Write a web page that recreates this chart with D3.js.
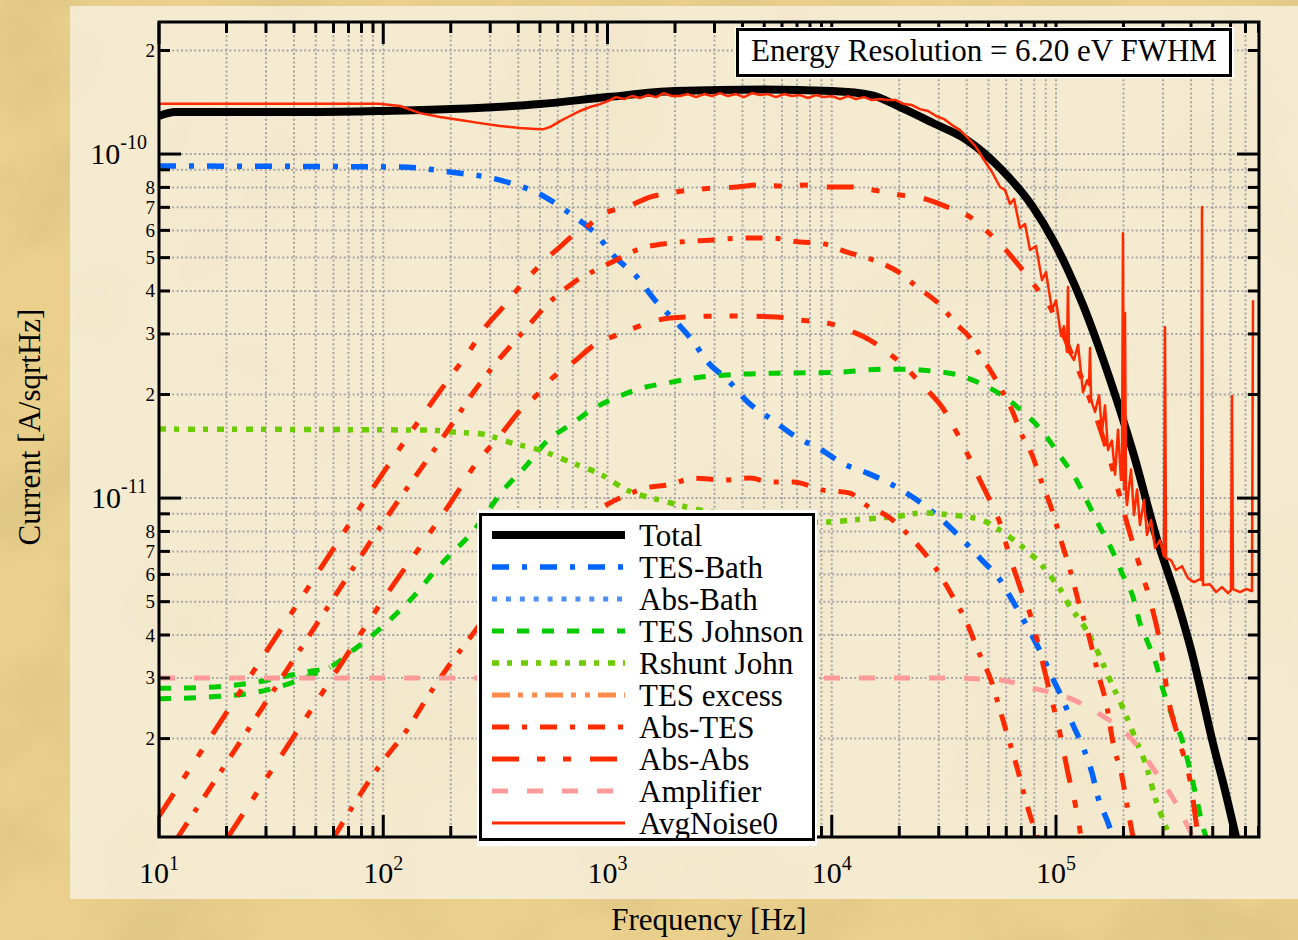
<!DOCTYPE html>
<html>
<head>
<meta charset="utf-8">
<script src="https://cdn.jsdelivr.net/npm/d3@7/dist/d3.min.js"></script>
<style>
  html, body { margin: 0; padding: 0; background: #e9d08e; }
  svg { display: block; }
</style>
</head>
<body>
<svg id="chart" width="1298" height="940"></svg>
<script>
// ---------- axis ranges and tick labels ----------
const xDomain = [10, 8.04e5];            // Hz
const yDomain = [1.035e-12, 2.42e-10];   // A/sqrtHz
const xMajorExponents = [1, 2, 3, 4, 5];
const yMajorExponents = [-11, -10];
const yMinorLabels = [2, 3, 4, 5, 6, 7, 8];

// ---------- legend ----------
const legendNames = ["Total", "TES-Bath", "Abs-Bath", "TES Johnson", "Rshunt John",
                     "TES excess", "Abs-TES", "Abs-Abs", "Amplifier", "AvgNoise0"];
const legendColors = ["#000000", "#0064ff", "#4d8ef5", "#00cc00", "#6ccc00",
                      "#ff8c4c", "#ff2a00", "#ff2a00", "#ff9a9a", "#ff2a00"];
const legendWidths = [8, 5.5, 5, 5, 5.5, 5, 5, 5, 5, 2.5];
const legendDashes = [null, "17,13,5,13", "5,8.9", "12,13", "7,8,5,9",
                      "18,8,5,9,5,8", "17,13,5,13", "27,18,8,18,8,19", "16,19", null];

// ---------- noise components ----------
const totalF = [10, 11.8, 20, 50, 100, 200, 500, 1000, 2000, 5000, 10000, 15000, 20160, 28300,
  40100, 56280, 78900, 96970, 112000, 132000, 157000, 187000, 220500, 282000, 346000, 408000,
  452400, 501000, 556000, 634900];
const totalI = [1.29e-10, 1.325e-10, 1.325e-10, 1.325e-10, 1.334e-10, 1.351e-10, 1.397e-10,
  1.464e-10, 1.524e-10, 1.54e-10, 1.524e-10, 1.484e-10, 1.369e-10, 1.231e-10, 1.098e-10,
  9.11e-11, 7.02e-11, 5.62e-11, 4.66e-11, 3.64e-11, 2.69e-11, 1.92e-11, 1.36e-11, 7.60e-12,
  5.05e-12, 3.45e-12, 2.59e-12, 1.94e-12, 1.49e-12, 1.035e-12];

const tesBathF = [10, 119, 198, 332, 537, 694, 898, 1058, 1354, 1628, 2041, 2381, 2807, 3447,
  4231, 5415, 7000, 8860, 11220, 14510, 18760, 23990, 30390, 37320, 45820, 56280, 65660, 75040,
  86620, 96000, 107500, 119100, 131950, 144700, 153900, 168800, 179600];
const tesBathI = [9.23e-11, 9.17e-11, 8.87e-11, 8.40e-11, 7.45e-11, 6.65e-11, 5.81e-11,
  5.09e-11, 4.39e-11, 3.76e-11, 3.23e-11, 2.88e-11, 2.48e-11, 2.20e-11, 1.90e-11, 1.69e-11,
  1.50e-11, 1.39e-11, 1.26e-11, 1.18e-11, 1.09e-11, 9.87e-12, 8.75e-12, 7.70e-12, 6.69e-12,
  5.78e-12, 4.89e-12, 4.19e-12, 3.50e-12, 3.02e-12, 2.59e-12, 2.19e-12, 1.89e-12, 1.59e-12,
  1.35e-12, 1.16e-12, 1.035e-12];

const tesJohnsonF = [10, 16.5, 27.4, 44.8, 57.9, 73.3, 91.9, 112.8, 138.6, 166.7, 202.5, 243.7,
  349, 428.5, 542.8, 680.5, 879.6, 1114, 1425, 1842, 2381, 3897, 6318, 10550, 16920, 21660,
  27990, 35440, 44870, 57400, 71230, 87470, 102100, 125400, 138900, 157100, 177700, 197000,
  220500, 236900, 257300, 282100, 300100, 322400, 368600, 396000, 425500, 447800, 466600];
const tesJohnsonI = [2.80e-12, 2.82e-12, 2.92e-12, 3.12e-12, 3.23e-12, 3.61e-12, 4.05e-12,
  4.57e-12, 5.23e-12, 6.05e-12, 6.92e-12, 7.81e-12, 1.069e-11, 1.23e-11, 1.475e-11, 1.63e-11,
  1.83e-11, 1.97e-11, 2.09e-11, 2.16e-11, 2.23e-11, 2.29e-11, 2.31e-11, 2.32e-11, 2.37e-11,
  2.37e-11, 2.34e-11, 2.29e-11, 2.17e-11, 1.99e-11, 1.78e-11, 1.556e-11, 1.352e-11, 1.106e-11,
  9.67e-12, 8.24e-12, 7.06e-12, 6.05e-12, 5.16e-12, 4.33e-12, 3.79e-12, 3.23e-12, 2.77e-12,
  2.42e-12, 1.94e-12, 1.62e-12, 1.32e-12, 1.135e-12, 1.035e-12];
// second low-frequency branch of the TES Johnson trace
const tesJohnsonLowF = [10, 16.5, 27.4, 44.8, 57.9];
const tesJohnsonLowI = [2.61e-12, 2.64e-12, 2.73e-12, 3.00e-12, 3.23e-12];

const rshuntF = [10, 161.6, 204.6, 275.6, 375, 500, 680, 926, 1247, 1714, 2585, 4787, 8860,
  13790, 18570, 25530, 34380, 46770, 53460, 62360, 72750, 84840, 96000, 106400, 115500, 128000,
  152300, 174100, 199000, 225100, 254600, 276400, 309500, 322400];
const rshuntI = [1.587e-11, 1.576e-11, 1.556e-11, 1.535e-11, 1.445e-11, 1.379e-11, 1.273e-11,
  1.175e-11, 1.048e-11, 9.87e-12, 9.23e-12, 8.81e-12, 8.51e-12, 8.69e-12, 8.81e-12, 9.05e-12,
  8.93e-12, 8.63e-12, 8.23e-12, 7.70e-12, 7.11e-12, 6.47e-12, 5.85e-12, 5.33e-12, 4.82e-12,
  4.42e-12, 3.61e-12, 2.96e-12, 2.45e-12, 2.01e-12, 1.64e-12, 1.35e-12, 1.106e-12, 1.035e-12];

// absorber terms (four traces)
const absAF = [10, 20, 50, 100, 205, 239, 279, 342, 420, 485, 543, 614, 702, 794, 898, 955,
  1222, 1547, 1900, 2333, 2955, 3780, 4787, 6062, 7757, 9822, 12440, 15280, 20160, 25270,
  32660, 41360, 45810, 52360, 58040, 67000, 76560, 94000, 115500, 141800, 174100, 207300,
  236900, 262600, 290900, 315800, 357200, 395900, 429800];
const absAI = [1.19e-12, 2.38e-12, 5.94e-12, 1.186e-11, 2.31e-11, 2.64e-11, 3.08e-11, 3.59e-11,
  4.22e-11, 4.66e-11, 5.02e-11, 5.37e-11, 5.81e-11, 6.09e-11, 6.5e-11, 6.7e-11, 7.02e-11,
  7.50e-11, 7.70e-11, 7.86e-11, 7.96e-11, 8.02e-11, 8.13e-11, 8.07e-11, 8.13e-11, 8.02e-11,
  8.02e-11, 7.86e-11, 7.60e-11, 7.45e-11, 7.02e-11, 6.56e-11, 6.22e-11, 5.74e-11, 5.37e-11,
  4.82e-11, 4.31e-11, 3.59e-11, 2.69e-11, 1.93e-11, 1.29e-11, 8.46e-12, 6.30e-12, 5.05e-12,
  3.79e-12, 2.64e-12, 1.94e-12, 1.51e-12, 1.035e-12];

const absBF = [12.15, 20, 50, 100, 209, 251, 299, 416, 554, 702, 1026, 1425, 1900, 2864, 4188,
  5304, 7219, 8860, 11700, 15280, 20160, 23990, 29780, 36180, 41360, 45810, 50790, 56280, 63650,
  71270, 76560, 86620, 96000, 104200, 115500, 128000, 138900, 153900, 168800, 179600, 197000,
  207300, 220500];
const absBI = [1.035e-12, 1.70e-12, 4.26e-12, 8.49e-12, 1.69e-11, 2.02e-11, 2.35e-11, 3.02e-11,
  3.72e-11, 4.22e-11, 4.82e-11, 5.33e-11, 5.51e-11, 5.62e-11, 5.70e-11, 5.70e-11, 5.55e-11,
  5.51e-11, 5.19e-11, 4.92e-11, 4.51e-11, 4.11e-11, 3.69e-11, 3.19e-11, 2.92e-11, 2.60e-11,
  2.36e-11, 2.10e-11, 1.80e-11, 1.50e-11, 1.38e-11, 1.106e-11, 9.23e-12, 7.70e-12, 6.18e-12,
  4.82e-12, 4.06e-12, 3.10e-12, 2.47e-12, 1.94e-12, 1.55e-12, 1.28e-12, 1.035e-12];

const absCF = [20.3, 50, 100, 213, 256, 325, 428, 475, 554, 702, 898, 1103, 1440, 1900, 3077,
  4020, 5700, 7219, 9524, 12440, 14810, 17640, 20160, 24240, 27420, 31010, 36180, 40100, 45810,
  51830, 56280, 60460, 69110, 78160, 86620, 94040, 104200, 113100, 124100, 129300];
const absCI = [1.035e-12, 2.54e-12, 5.07e-12, 1.034e-11, 1.247e-11, 1.494e-11, 1.86e-11,
  1.97e-11, 2.20e-11, 2.48e-11, 2.82e-11, 2.98e-11, 3.19e-11, 3.34e-11, 3.38e-11, 3.38e-11,
  3.36e-11, 3.29e-11, 3.23e-11, 3.04e-11, 2.88e-11, 2.66e-11, 2.48e-11, 2.20e-11, 2.02e-11,
  1.84e-11, 1.545e-11, 1.352e-11, 1.128e-11, 9.55e-12, 8.46e-12, 7.20e-12, 5.51e-12, 4.42e-12,
  3.38e-12, 2.71e-12, 2.07e-12, 1.587e-12, 1.214e-12, 1.035e-12];

const absDF = [60.3, 96.7, 127.6, 161.6, 194.4, 248.8, 300, 500, 700, 1000, 1161, 1547, 1842,
  2455, 3273, 4320, 5304, 6718, 9141, 12060, 13770, 18190, 23500, 28870, 34360, 40100, 44870,
  51830, 56280, 61090, 67000, 74270, 81470, 82500];
const absDI = [1.035e-12, 1.675e-12, 2.12e-12, 2.71e-12, 3.23e-12, 4.00e-12, 4.7e-12, 6.8e-12,
  8.3e-12, 9.6e-12, 1.007e-11, 1.076e-11, 1.09e-11, 1.143e-11, 1.128e-11, 1.143e-11, 1.113e-11,
  1.113e-11, 1.055e-11, 1.034e-11, 9.67e-12, 8.75e-12, 7.45e-12, 6.30e-12, 5.22e-12, 4.33e-12,
  3.61e-12, 2.90e-12, 2.42e-12, 2.02e-12, 1.65e-12, 1.28e-12, 1.06e-12, 1.035e-12];

const ampF = [10, 30400, 56300, 78900, 112000, 153900, 213800, 270800, 339500, 408000];
const ampI = [3.0e-12, 3.0e-12, 2.96e-12, 2.80e-12, 2.64e-12, 2.37e-12, 2.02e-12, 1.64e-12,
  1.31e-12, 1.035e-12];

// measured averaged noise spectrum
const avgF = [10, 95.7, 118.8, 145.8, 179, 220, 270, 332, 407, 475, 515, 554, 614, 680, 754,
  836, 926,
  1005, 1091, 1185, 1286, 1396, 1516, 1646, 1786, 1939, 2105, 2286, 2481, 2694, 2924, 3174,
  3445, 3741, 4061, 4409, 4786, 5195, 5640, 6122, 6646, 7216, 7833, 8503, 9234, 10020, 10880,
  11810, 12820, 13920, 15120, 16410, 17810, 19340, 20990, 22790, 24740, 26870, 29170, 31670,
  34380, 37330, 40520, 43980, 47760, 51840, 56280,
  59240, 62360, 64970, 69100, 72740, 76580, 81430, 86600, 90230, 95990, 100000, 105270, 108560,
  111960, 113100, 114300, 120300, 125400, 131950, 137500, 140400, 141800, 143300, 149300,
  155600, 160400, 165400, 170600, 177700, 183400, 189000, 194900, 196900, 198900, 201000,
  203100, 205200, 207300, 216000, 222800, 229800, 236900, 246900, 254600, 265300, 276400,
  290900, 303000, 306200, 309400, 325600, 342800, 364700, 387800, 412500, 438700, 443200,
  447800, 452400, 486000, 517000, 549800, 584800, 603100, 609300, 615600, 661600, 703600,
  748200, 755900];
const avgI = [1.40e-10, 1.40e-10, 1.379e-10, 1.315e-10, 1.281e-10, 1.256e-10, 1.23e-10,
  1.206e-10, 1.19e-10, 1.183e-10, 1.18e-10, 1.198e-10, 1.247e-10, 1.29e-10, 1.334e-10,
  1.37e-10, 1.397e-10,
  1.426e-10, 1.464e-10, 1.445e-10, 1.474e-10, 1.455e-10, 1.484e-10, 1.464e-10, 1.504e-10,
  1.474e-10, 1.474e-10, 1.494e-10, 1.464e-10, 1.494e-10, 1.474e-10, 1.504e-10, 1.474e-10,
  1.494e-10, 1.464e-10, 1.504e-10, 1.484e-10, 1.494e-10, 1.464e-10, 1.494e-10, 1.474e-10,
  1.484e-10, 1.455e-10, 1.484e-10, 1.464e-10, 1.474e-10, 1.445e-10, 1.474e-10, 1.445e-10,
  1.464e-10, 1.435e-10, 1.445e-10, 1.435e-10, 1.435e-10, 1.397e-10, 1.388e-10, 1.351e-10,
  1.334e-10, 1.290e-10, 1.264e-10, 1.214e-10, 1.174e-10, 1.113e-10, 1.048e-10, 9.61e-11,
  8.87e-11, 8.02e-11,
  7.86e-11, 7.16e-11, 7.40e-11, 6.09e-11, 6.26e-11, 5.26e-11, 5.40e-11, 4.30e-11, 4.54e-11,
  3.52e-11, 3.76e-11, 2.96e-11, 3.16e-11, 2.66e-11, 4.11e-11, 2.66e-11, 2.52e-11, 2.79e-11,
  2.03e-11, 2.20e-11, 2.13e-11, 2.73e-11, 1.93e-11, 1.78e-11, 1.99e-11, 1.56e-11, 1.86e-11,
  1.38e-11, 1.47e-11, 1.17e-11, 1.58e-11, 1.13e-11, 1.13e-11, 5.89e-11, 1.06e-11, 3.45e-11,
  1.02e-11, 9.54e-12, 1.21e-11, 8.93e-12, 1.06e-11, 8.35e-12, 9.87e-12, 7.81e-12, 8.63e-12,
  7.16e-12, 7.55e-12, 6.78e-12, 3.14e-11, 6.69e-12, 6.60e-12, 6.18e-12, 6.34e-12, 5.85e-12,
  5.70e-12, 5.81e-12, 5.78e-12, 7.02e-11, 5.59e-12, 5.62e-12, 5.33e-12, 5.51e-12, 5.29e-12,
  5.40e-12, 1.98e-11, 5.44e-12, 5.33e-12, 5.44e-12, 5.37e-12, 3.76e-11];

const energyLabel = "Energy Resolution = 6.20 eV FWHM";

// ---------- drawing ----------
const W = 1298, H = 940;
const P = { left: 159, right: 1259, top: 22, bottom: 837 };
const svg = d3.select("#chart");
const serif = "'Liberation Serif', 'Times New Roman', Times, serif";

const x = d3.scaleLog().domain(xDomain).range([P.left, P.right]);
const y = d3.scaleLog().domain(yDomain).range([P.bottom, P.top]);

// parchment background
const defs = svg.append("defs");
const f1 = defs.append("filter").attr("id", "mottle").attr("filterUnits", "userSpaceOnUse")
  .attr("x", 0).attr("y", 0).attr("width", W).attr("height", H);
f1.append("feTurbulence").attr("type", "fractalNoise").attr("baseFrequency", "0.009")
  .attr("numOctaves", 4).attr("seed", 11);
f1.append("feColorMatrix").attr("type", "matrix")
  .attr("values", "0 0 0 0 0.62  0 0 0 0 0.48  0 0 0 0 0.2  0.95 0 0 0 -0.38");
const f2 = defs.append("filter").attr("id", "mottleLight").attr("filterUnits", "userSpaceOnUse")
  .attr("x", 70).attr("y", 6).attr("width", W - 70).attr("height", 893);
f2.append("feTurbulence").attr("type", "fractalNoise").attr("baseFrequency", "0.006")
  .attr("numOctaves", 3).attr("seed", 4);
f2.append("feColorMatrix").attr("type", "matrix")
  .attr("values", "0 0 0 0 0.75  0 0 0 0 0.65  0 0 0 0 0.4  0.35 0 0 0 -0.14");
defs.append("clipPath").attr("id", "plotClip").append("rect")
  .attr("x", P.left).attr("y", P.top).attr("width", P.right - P.left).attr("height", P.bottom - P.top);

svg.append("rect").attr("width", W).attr("height", H).attr("fill", "#ead08c");
svg.append("rect").attr("width", W).attr("height", H).attr("filter", "url(#mottle)");
svg.append("rect").attr("x", 70).attr("y", 6).attr("width", W - 70).attr("height", 893)
  .attr("fill", "#f5ebd1");
svg.append("rect").attr("x", 70).attr("y", 6).attr("width", W - 70).attr("height", 893)
  .attr("filter", "url(#mottleLight)");

// tick positions
const xTicks = [];
for (let e = 1; e <= 5; e++) for (let m = 1; m <= 9; m++) {
  const v = m * Math.pow(10, e);
  if (v >= xDomain[0] && v <= xDomain[1]) xTicks.push({ v, major: m === 1 });
}
const yTicks = [];
for (let e = -12; e <= -10; e++) for (let m = 1; m <= 9; m++) {
  const v = m * Math.pow(10, e);
  if (v >= yDomain[0] && v <= yDomain[1]) yTicks.push({ v, m, e, major: m === 1 });
}

// dotted grid
const grid = svg.append("g").attr("stroke", "#a7a7a7").attr("stroke-width", 2)
  .attr("stroke-dasharray", "2,2.4");
xTicks.forEach(t => grid.append("line").attr("x1", x(t.v)).attr("x2", x(t.v))
  .attr("y1", P.top).attr("y2", P.bottom));
yTicks.forEach(t => grid.append("line").attr("y1", y(t.v)).attr("y2", y(t.v))
  .attr("x1", P.left).attr("x2", P.right));

// curves
const smooth = d3.line().x(d => x(d[0])).y(d => y(d[1])).curve(d3.curveMonotoneX);
const raw = d3.line().x(d => x(d[0])).y(d => y(d[1]));
const plotSeries = [
  { f: totalF, v: totalI, s: 0 },
  { f: tesBathF, v: tesBathI, s: 1 },
  { f: tesJohnsonF, v: tesJohnsonI, s: 3 },
  { f: tesJohnsonLowF, v: tesJohnsonLowI, s: 3 },
  { f: rshuntF, v: rshuntI, s: 4 },
  { f: absBF, v: absBI, s: 6 },
  { f: absDF, v: absDI, s: 6 },
  { f: absAF, v: absAI, s: 7 },
  { f: absCF, v: absCI, s: 7 },
  { f: ampF, v: ampI, s: 8 },
  { f: avgF, v: avgI, s: 9, raw: true }
];
const curves = svg.append("g").attr("clip-path", "url(#plotClip)");
plotSeries.forEach(sr => {
  const pts = d3.zip(sr.f, sr.v);
  curves.append("path")
    .attr("d", (sr.raw ? raw : smooth)(pts))
    .attr("fill", "none")
    .attr("stroke", legendColors[sr.s])
    .attr("stroke-width", legendWidths[sr.s])
    .attr("stroke-dasharray", legendDashes[sr.s])
    .attr("stroke-linejoin", "round");
});

// frame and ticks on all four sides
const ax = svg.append("g").attr("stroke", "#000").attr("stroke-width", 3);
ax.append("rect").attr("x", P.left).attr("y", P.top)
  .attr("width", P.right - P.left).attr("height", P.bottom - P.top).attr("fill", "none");
xTicks.forEach(t => {
  const L = t.major ? 22 : 11, px = x(t.v);
  ax.append("line").attr("x1", px).attr("x2", px).attr("y1", P.bottom).attr("y2", P.bottom - L);
  ax.append("line").attr("x1", px).attr("x2", px).attr("y1", P.top).attr("y2", P.top + L);
});
yTicks.forEach(t => {
  const L = t.major ? 22 : 11, py = y(t.v);
  ax.append("line").attr("y1", py).attr("y2", py).attr("x1", P.left).attr("x2", P.left + L);
  ax.append("line").attr("y1", py).attr("y2", py).attr("x1", P.right).attr("x2", P.right - L);
});

// tick labels
const lab = svg.append("g").attr("font-family", serif).attr("fill", "#000");
xMajorExponents.forEach(e => {
  const t = lab.append("text").attr("x", x(Math.pow(10, e))).attr("y", 883)
    .attr("text-anchor", "middle");
  t.append("tspan").attr("font-size", 30).text("10");
  t.append("tspan").attr("font-size", 20).attr("dy", -13).text(String(e));
});
yMajorExponents.forEach(e => {
  const t = lab.append("text").attr("x", 147).attr("y", y(Math.pow(10, e)) + 10)
    .attr("text-anchor", "end");
  t.append("tspan").attr("font-size", 30).text("10");
  t.append("tspan").attr("font-size", 20).attr("dy", -15).text(String(e));
});
yTicks.filter(t => yMinorLabels.includes(t.m)).forEach(t => {
  lab.append("text").attr("x", 155).attr("y", y(t.v) + 6.5).attr("text-anchor", "end")
    .attr("font-size", 19).text(String(t.m));
});

// axis titles
lab.append("text").attr("x", (P.left + P.right) / 2).attr("y", 930).attr("text-anchor", "middle")
  .attr("font-size", 31).text("Frequency [Hz]");
lab.append("text").attr("transform", "translate(40," + 427 + ") rotate(-90)")
  .attr("text-anchor", "middle").attr("font-size", 31).text("Current [A/sqrtHz]");

// energy resolution annotation
svg.append("rect").attr("x", 735).attr("y", 27).attr("width", 499).attr("height", 51).attr("fill", "#fff");
svg.append("rect").attr("x", 737.5).attr("y", 29.5).attr("width", 493).attr("height", 46)
  .attr("fill", "none").attr("stroke", "#000").attr("stroke-width", 3);
svg.append("text").attr("x", 984).attr("y", 61).attr("text-anchor", "middle")
  .attr("font-family", serif).attr("font-size", 31).text(energyLabel);

// legend
const lg = svg.append("g");
lg.append("rect").attr("x", 477).attr("y", 510).attr("width", 340).attr("height", 336).attr("fill", "#fff");
lg.append("rect").attr("x", 480.5).attr("y", 514.5).attr("width", 333).attr("height", 325)
  .attr("fill", "none").attr("stroke", "#000").attr("stroke-width", 3);
legendNames.forEach((name, i) => {
  const cy = 535 + i * 32;
  lg.append("line").attr("x1", 492).attr("x2", 625).attr("y1", cy).attr("y2", cy)
    .attr("stroke", legendColors[i])
    .attr("stroke-width", i === 9 ? 3 : legendWidths[i])
    .attr("stroke-dasharray", legendDashes[i]);
  lg.append("text").attr("x", 639).attr("y", cy + 10.5).attr("font-family", serif)
    .attr("font-size", 31).attr("fill", "#000").text(name);
});
</script>
</body>
</html>
